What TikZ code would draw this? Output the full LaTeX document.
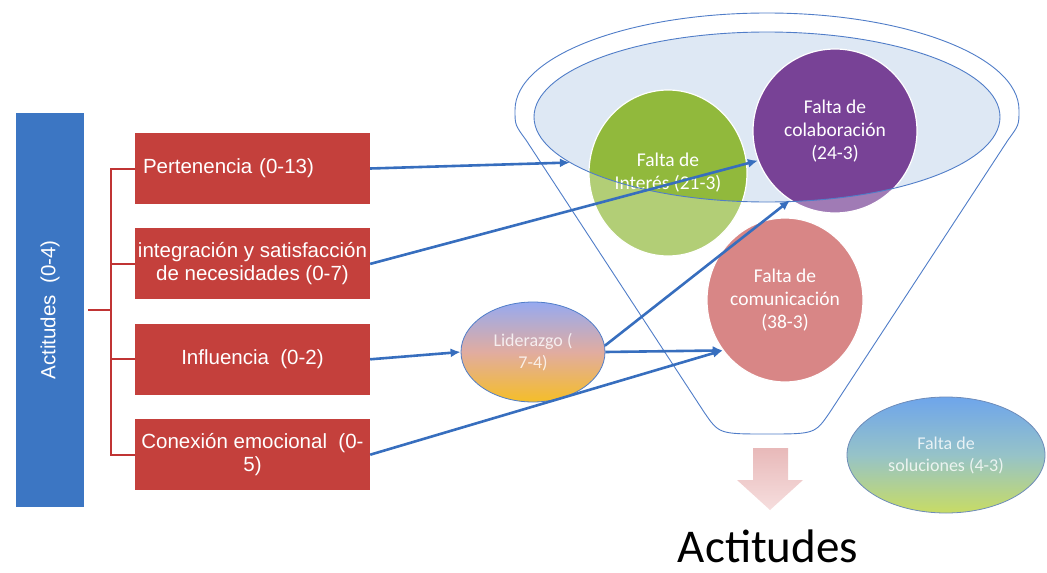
\documentclass[tikz,border=0pt]{standalone}
\usepackage{fontspec}
\setmainfont{Liberation Sans}
\newfontfamily\calib{Carlito}
\usepackage{tikz}
\usetikzlibrary{shapes.geometric,arrows.meta,positioning}

\definecolor{actblue}{RGB}{60,118,195}
\definecolor{boxred}{RGB}{196,64,60}
\definecolor{brkred}{RGB}{192,52,52}
\definecolor{arrblue}{RGB}{55,110,190}
\definecolor{funblue}{RGB}{80,125,200}
\definecolor{grupofill}{RGB}{222,232,244}
\definecolor{intgreen}{RGB}{145,185,60}
\definecolor{colpurple}{RGB}{120,66,150}
\definecolor{compink}{RGB}{200,82,82}

\begin{document}
\begin{tikzpicture}[x=1pt, y=-1pt,
  node distance=24pt,
  rbox/.style={fill=boxred, text=white, minimum width=235pt, minimum height=71pt, align=center, inner sep=2pt, font=\fontsize{20.5}{23}\selectfont},
  abox/.style={fill=actblue, text=white, minimum width=68pt, minimum height=394pt, inner sep=0pt, font=\fontsize{20.5}{23}\selectfont},
  falta/.style={ellipse, draw=white, line width=1.2pt, text=white, align=center, inner sep=0pt, font=\calib\fontsize{19.5}{23}\selectfont},
  soft/.style={ellipse, draw=funblue, line width=0.8pt, text=white, align=center, inner sep=0pt, font=\calib\fontsize{18}{22}\selectfont},
  fun/.style={draw=funblue, line width=0.9pt},
  brk/.style={draw=brkred, line width=2pt},
  arr/.style={-{Latex[length=10pt,width=9pt]}, draw=arrblue, line width=2.6pt}
]
  \useasboundingbox (0,0) rectangle (1047,573);

  % embudo
  \node[ellipse, fill=grupofill, minimum width=466pt, minimum height=170pt, inner sep=0pt] (grupo) at (767,117) {};
  \node[falta, fill=intgreen, minimum width=158pt, minimum height=166pt] (inter) at (668,173) {Falta de\\Interés (21-3)};
  \node[falta, fill=colpurple, minimum width=164pt, minimum height=164pt] (colab) at (835,131) {Falta de\\colaboración\\(24-3)};
  \node[falta, fill=compink, minimum width=156pt, minimum height=164pt] (comun) at (785,300) {Falta de\\comunicación\\(38-3)};
  \begin{scope}
    \clip (515,110) arc[start angle=180, end angle=360, x radius=252, y radius=97]
      .. controls (1019,125) .. (1008,140) -- (830,412)
      .. controls (815,434) .. (767,434) .. controls (719,434) .. (704,412)
      -- (526,140) .. controls (515,125) .. (515,110) -- cycle;
    \fill[white, opacity=.3, even odd rule] (500,0) rectangle (1047,450)
      (767,117) ellipse [x radius=233, y radius=85];
  \end{scope}
  \draw[fun] (767,117) ellipse [x radius=233, y radius=85];
  \draw[fun] (515,110) arc[start angle=180, end angle=360, x radius=252, y radius=97]
    .. controls (1019,125) .. (1008,140) -- (830,412)
    .. controls (815,434) .. (767,434) .. controls (719,434) .. (704,412)
    -- (526,140) .. controls (515,125) .. (515,110) -- cycle;

  % actitudes
  \node[abox] (actit) at (50,310) {\rotatebox{90}{Actitudes\ \ (0-4)}};
  \node[rbox, align=left, text width=219pt, inner xsep=8pt] (perten) at (252.5,168.5) {Pertenencia (0-13)};
  \node[rbox, below=of perten] (integ) {integración y satisfacción\\de necesidades (0-7)};
  \node[rbox, below=of integ] (influ) {Influencia\ \ (0-2)};
  \node[rbox, below=of influ] (conex) {Conexión emocional\ \ (0-\\5)};
  \draw[brk] ([xshift=4pt]actit.east) -- ++(22,0);
  \draw[brk] (perten.west) -- ++(-24,0) |- (conex.west);
  \draw[brk] (integ.west) -- ++(-24,0);
  \draw[brk] (influ.west) -- ++(-24,0);

  \node[soft, minimum width=144pt, minimum height=100pt, top color={rgb,255:red,150;green,170;blue,240}, bottom color={rgb,255:red,245;green,190;blue,40}, middle color={rgb,255:red,225;green,172;blue,160}, text opacity=.8] (lider) at (533,352) {Liderazgo (\\7-4)};
  \node[soft, draw={rgb,255:red,110;green,140;blue,185}, minimum width=198pt, minimum height=116pt, top color={rgb,255:red,110;green,165;blue,235}, bottom color={rgb,255:red,200;green,220;blue,100}, middle color={rgb,255:red,150;green,195;blue,200}, text opacity=.8] (soluc) at (946,455) {Falta de\\soluciones (4-3)};

  \shade[top color={rgb,255:red,232;green,185;blue,185}, bottom color={rgb,255:red,246;green,222;blue,222}]
    (753,448) -- (788,448) -- (788,480) -- (803,480) -- (770,510) -- (737,480) -- (753,480) -- cycle;
  \node[font=\calib\fontsize{47}{50}\selectfont] (titulo) at (768,546) {Actitudes};

  \draw[arr] (perten.east) -- (grupo.193);
  \draw[arr] (integ.east) -- (colab.201);
  \draw[arr] (influ.east) -- (lider.west);
  \draw[arr] (lider.5) -- (colab.237);
  \draw[arr] (lider.east) -- (comun.219);
  \draw[arr] (conex.east) -- (comun.219);
\end{tikzpicture}
\end{document}
